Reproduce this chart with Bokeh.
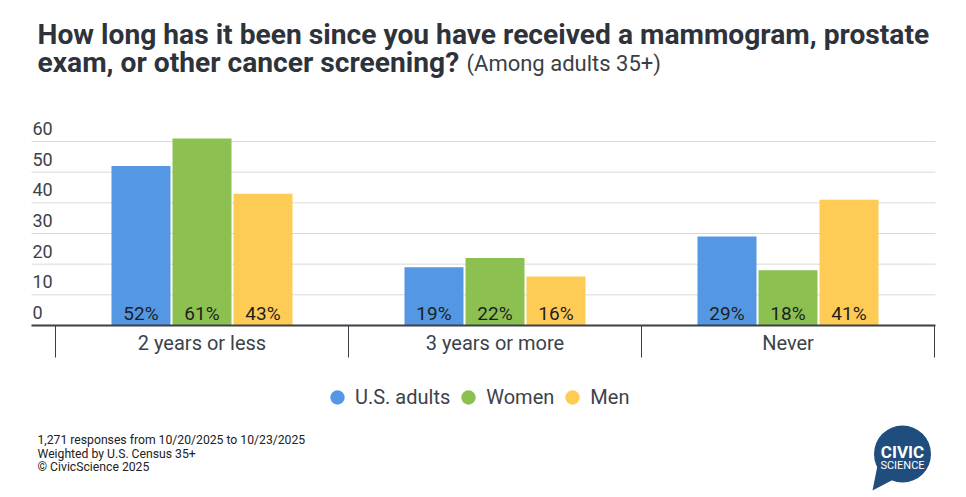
from bokeh.plotting import figure
from bokeh.models import Range1d, ColumnDataSource, Legend, LegendItem
from bokeh.core.properties import value
from bokeh.embed import file_html
from bokeh.resources import INLINE
import numpy as np

# ---- data ----
categories = ["2 years or less", "3 years or more", "Never"]
series_names = ["U.S. adults", "Women", "Men"]
us_adults = [52, 19, 29]
women = [61, 22, 18]
men = [43, 16, 41]
y_ticks = [0, 10, 20, 30, 40, 50, 60]
series_colors = ["#5498E3", "#8CC152", "#FECB55"]

title_line1 = "How long has it been since you have received a mammogram, prostate"
title_line2 = "exam, or other cancer screening?"
subtitle = "(Among adults 35+)"
footnotes = ["1,271 responses from 10/20/2025 to 10/23/2025",
             "Weighted by U.S. Census 35+",
             "\u00a9 CivicScience 2025"]

# ---- layout constants ----
W, H = 960, 492
CAT_PX = 293.0          # pixels per category
CAT0_PX = 55.0          # pixel x of first category boundary
PX_PER_UNIT = 184.0 / 60.0
BASE_PX = 325.0         # pixel y (from top) of value 0

FONT = value("Roboto")
TXT = "#3d424a"
AXIS = "#3b3f46"

p = figure(width=W, height=H, output_backend="svg", toolbar_location=None,
           x_axis_type=None, y_axis_type=None, title=None, min_border=0,
           x_range=Range1d(-CAT0_PX / CAT_PX, (W - CAT0_PX) / CAT_PX),
           y_range=Range1d(-(H - BASE_PX) / PX_PER_UNIT, BASE_PX / PX_PER_UNIT))
p.outline_line_color = None
p.background_fill_color = "white"
p.border_fill_color = "white"
p.extra_x_ranges = {"px": Range1d(0, W)}
p.extra_y_ranges = {"px": Range1d(H, 0)}

n_cat = len(categories)
grid_x0 = -24.0 / CAT_PX
grid_x1 = n_cat + 1.0 / CAT_PX

# gridlines
gt = [t for t in y_ticks if t > 0]
p.segment(x0=[grid_x0] * len(gt), x1=[grid_x1] * len(gt), y0=gt, y1=gt,
          line_color="#d9d9d9", line_width=1)

# bars
bar_w = 59.0 / CAT_PX
offs = [-61.0 / CAT_PX, 0.0, 61.0 / CAT_PX]
centers = np.arange(n_cat) + 0.5
for vals, off, col in zip([us_adults, women, men], offs, series_colors):
    src = ColumnDataSource(dict(x=centers + off, top=vals,
                                lab=[f"{v}%" for v in vals]))
    p.vbar(x="x", top="top", bottom=0, width=bar_w, source=src,
           fill_color=col, line_color=None)
    p.text(x="x", y=0, text="lab", source=src, text_font=FONT,
           text_font_size="19px", text_color="#1e1e1e", text_align="center",
           text_baseline="alphabetic", y_offset=-12.5)

# baseline axis line and category separators
p.segment(x0=[grid_x0], x1=[grid_x1], y0=[0], y1=[0], line_color=AXIS, line_width=2)
seps = list(range(n_cat + 1))
p.segment(x0=seps, x1=seps, y0=[0] * len(seps), y1=[-32.0 / PX_PER_UNIT] * len(seps),
          line_color=AXIS, line_width=1)

# y tick labels
p.text(x=[grid_x0] * len(y_ticks), y=y_ticks, text=[str(t) for t in y_ticks],
       text_font=FONT, text_font_size="18px", text_color=TXT, text_align="left",
       text_baseline="alphabetic", x_offset=1, y_offset=-13)

# category labels
p.text(x=list(centers), y=[0] * n_cat, text=categories, text_font=FONT,
       text_font_size="20px", text_color=TXT, text_align="center",
       text_baseline="alphabetic", y_offset=17.5)

# title
p.text(x=[37], y=[33.5], text=[title_line1], x_range_name="px", y_range_name="px",
       text_font=FONT, text_font_style="bold", text_font_size="28.2px",
       text_color="#2e333b", text_baseline="alphabetic")
p.text(x=[37], y=[61.5], text=[title_line2], x_range_name="px", y_range_name="px",
       text_font=FONT, text_font_style="bold", text_font_size="28.2px",
       text_color="#2e333b", text_baseline="alphabetic")
p.text(x=[466], y=[63.4], text=[subtitle], x_range_name="px", y_range_name="px",
       text_font=FONT, text_font_size="22px", text_color="#3a3f46",
       text_baseline="alphabetic")

# footnotes
p.text(x=[37] * 3, y=[439.8, 453.0, 466.3], text=footnotes, x_range_name="px",
       y_range_name="px", text_font=FONT, text_font_size="12.2px",
       text_color="#222222", text_baseline="alphabetic")

# legend (circle markers)
items = []
for name, col in zip(series_names, series_colors):
    r = p.scatter(x=[np.nan], y=[np.nan], marker="circle", size=15,
                  fill_color=col, line_color=None)
    items.append(LegendItem(label=name, renderers=[r]))
legend = Legend(items=items, location=(319, 76), orientation="horizontal",
                glyph_width=36, glyph_height=38, label_standoff=0, spacing=0,
                padding=0, margin=0, border_line_color=None,
                background_fill_alpha=0, label_text_font="Roboto",
                label_text_font_size="20px", label_text_color=TXT)
p.add_layout(legend)

# logo
LOGO = "#1f4e7e"
p.patch(x=[877, 872, 893], y=[465, 490, 479], x_range_name="px", y_range_name="px",
        fill_color=LOGO, line_color=None)
p.circle(x=[902], y=[453.5], radius=28.5, x_range_name="px", y_range_name="px",
         fill_color=LOGO, line_color=None)
p.text(x=[902], y=[451.9], text=["CIVIC"], x_range_name="px", y_range_name="px",
       text_font=FONT, text_font_style="bold", text_font_size="17px",
       text_color="white", text_align="center", text_baseline="alphabetic")
p.text(x=[902], y=[465.2], text=["SCIENCE"], x_range_name="px", y_range_name="px",
       text_font=FONT, text_font_size="11px", text_color="white",
       text_align="center", text_baseline="alphabetic")

open("out.html", "w").write(file_html(p, INLINE))
